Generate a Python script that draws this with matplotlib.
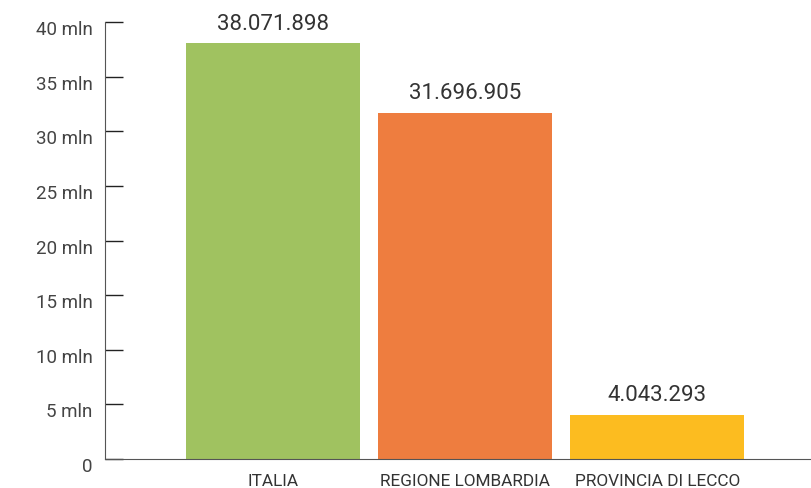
import matplotlib.pyplot as plt
import matplotlib.transforms as mtransforms

categories = ['ITALIA', 'REGIONE LOMBARDIA', 'PROVINCIA DI LECCO']
values = [38071898, 31696905, 4043293]
value_labels = ['38.071.898', '31.696.905', '4.043.293']
colors = ['#A0C260', '#EE7D3F', '#FCBC20']
yticks = [0, 5, 10, 15, 20, 25, 30, 35, 40]
ytick_labels = ['0'] + [str(t) + ' mln' for t in yticks[1:]]

plt.rcParams['font.family'] = ['Roboto', 'DejaVu Sans']

fig = plt.figure(figsize=(8.11, 4.88), dpi=100)
ax = fig.add_axes([105 / 811, 29 / 488, 706 / 811, 437 / 488])

x = range(len(categories))
vals_mln = [v / 1e6 for v in values]
bars = ax.bar(x, vals_mln, width=0.906, color=colors)

for b, lab in zip(bars, value_labels):
    ax.annotate(lab, (b.get_x() + b.get_width() / 2, b.get_height()),
                xytext=(0, 6), textcoords='offset points',
                ha='center', va='bottom', fontsize=16, color='#333333')

ax.set_xlim(-0.875, 2.80)
ax.set_ylim(0, 40)

ax.set_xticks(list(x))
ax.set_xticklabels(categories, fontsize=12.4, color='#333333')
ax.tick_params(axis='x', length=0, pad=11)

ax.set_yticks(yticks)
ax.set_yticklabels(ytick_labels, fontsize=13.5, color='#444444')
ax.tick_params(axis='y', direction='in', length=13, width=1, color='#222222', pad=9)
offset = mtransforms.ScaledTranslation(0, -6 / 100, fig.dpi_scale_trans)
for lbl in ax.get_yticklabels():
    lbl.set_transform(lbl.get_transform() + offset)

for s in ['top', 'right']:
    ax.spines[s].set_visible(False)
ax.spines['left'].set_color('#555555')
ax.spines['bottom'].set_color('#555555')

fig.savefig('out.png', dpi=100)
